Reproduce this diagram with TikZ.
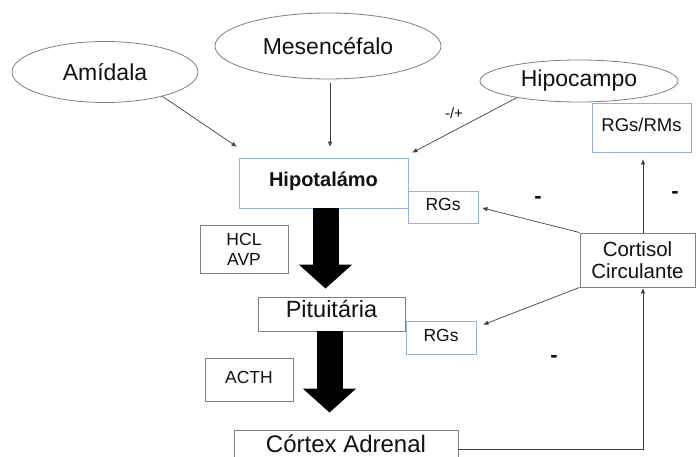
\documentclass[tikz,border=0pt]{standalone}
\usepackage{fontspec}
\setmainfont{Liberation Sans}
\usepackage{xcolor}
\usepackage{tikz}
\usetikzlibrary{positioning, shapes, arrows.meta, calc}

\definecolor{bordacinza}{HTML}{7F7F7F}
\definecolor{bordaazul}{HTML}{95B3D7}
\definecolor{linha}{HTML}{404040}
\definecolor{texto}{HTML}{111111}

\begin{document}
\begin{tikzpicture}[x=1pt, y=-1pt,
    regiao/.style={ellipse, draw=bordacinza, line width=0.8pt, inner sep=0pt, text=texto, font=\fontsize{23}{26}\selectfont},
    caixa/.style={rectangle, draw=bordacinza, line width=0.9pt, fill=white, inner sep=0pt, text=texto, align=center},
    caixaazul/.style={caixa, draw=bordaazul},
    uma/.style={text height=0.72em, text depth=0pt},
    seta/.style={draw=linha, line width=0.7pt, -{Triangle[length=5pt, width=4pt]}},
    setagrande/.style={line width=26pt, -{Triangle[length=24pt, width=52pt]}},
    sinal/.style={text=texto, inner sep=0pt, font=\fontsize{22}{22}\selectfont\bfseries},
    rotulo/.style={text=texto, inner sep=0pt, font=\fontsize{15}{15}\selectfont}]
  \useasboundingbox (0,0) rectangle (696,457);

  % Brain regions
  \node[regiao, minimum width=186pt, minimum height=61pt] (amid) at (105,72) {Amídala};
  \node[regiao, minimum width=226pt, minimum height=66pt] (mesen) at (328,46) {Mesencéfalo};
  \node[regiao, minimum width=198pt, minimum height=42pt] (hipoc) at (579,81) {Hipocampo};

  % Axis
  \node[caixaazul, uma, minimum width=169pt, minimum height=50pt, font=\fontsize{20}{22}\selectfont\bfseries] (hipo) at (323.5,183) {Hipotalámo};
  \node[caixaazul, uma, minimum width=70pt, minimum height=32pt, font=\fontsize{17.5}{20}\selectfont] (rgs1) at (443,207) {RGs};
  \node[caixa, uma, minimum width=147pt, minimum height=34pt, font=\fontsize{23.5}{26}\selectfont] (pit) at (331.5,314) {Pituitária};
  \node[caixaazul, uma, minimum width=70pt, minimum height=33pt, font=\fontsize{17.5}{20}\selectfont] (rgs2) at (441,337.5) {RGs};
  \node[caixa, uma, minimum width=224pt, minimum height=38pt, font=\fontsize{24}{26}\selectfont] (cortex) at (346,449) {Córtex Adrenal};

  % Hormones
  \node[caixa, minimum width=88pt, minimum height=48pt, font=\fontsize{17.5}{20}\selectfont] (hcl) at (244,249) {HCL\\AVP};
  \node[caixa, uma, minimum width=88pt, minimum height=43pt, font=\fontsize{17.5}{20}\selectfont] (acth) at (249,379.5) {ACTH};

  % Feedback
  \node[caixa, minimum width=115pt, minimum height=54pt, font=\fontsize{20.5}{22}\selectfont] (cort) at (637.5,260) {Cortisol\\Circulante};
  \node[caixaazul, uma, minimum width=99pt, minimum height=49pt, font=\fontsize{18.5}{20}\selectfont] (rgsrm) at (641.5,127.5) {RGs/RMs};

  % Inputs to the hypothalamus
  \draw[seta] (amid.-23) -- ($(hipo.north west)+(-2,-11)$);
  \draw[seta] ($(mesen.south)+(2,4)$) -- ($(hipo.north)+(6.5,-11)$);
  \draw[seta] (hipoc.195) -- ($(hipo.north east)+(4,-5)$);
  \node[rotulo] (maismenos) at (454,113) {-/+};

  % Cascade
  \draw[setagrande] ($(hipo.south)+(2,0)$) -- ($(pit.north)+(-6,-8)$);
  \draw[setagrande] ($(pit.south)+(-2,0)$) -- ($(cortex.north)+(-16.5,-17)$);

  % Negative feedback
  \draw[seta] (cortex.east) -| ($(cort.south)+(5.5,1)$);
  \draw[seta] ($(cort.north)+(5.5,0)$) -- ($(rgsrm.south)+(1.5,7)$);
  \draw[seta] (cort.north west) -- ($(rgs1.east)+(4,1)$);
  \draw[seta] (cort.south west) -- ($(rgs2.north east)+(7,4)$);

  \node[sinal] (menos1) at (538,200) {-};
  \node[sinal] (menos2) at (675,195) {-};
  \node[sinal] (menos3) at (554,359) {-};
\end{tikzpicture}
\end{document}
